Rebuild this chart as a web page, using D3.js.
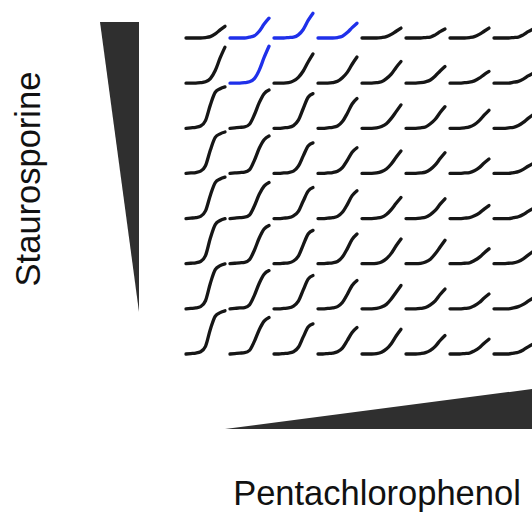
<!DOCTYPE html>
<html>
<head>
<meta charset="utf-8">
<script src="https://cdn.jsdelivr.net/npm/d3@7"></script>
<style>
  body { margin: 0; background: white; }
</style>
</head>
<body>
<div id="chart"></div>
<script>
const width = 532;
const height = 516;

// time points of each growth curve
const timePoints = [0, 1, 2, 3, 4, 5, 6, 7, 8];

// growth (fraction of max) per cell, top row = highest staurosporine,
// left column = lowest pentachlorophenol
const row0 = [
  [0, 0, 0, 0, 0.01, 0.03, 0.09, 0.18, 0.26],
  [0, 0, 0, 0, 0.02, 0.05, 0.15, 0.31, 0.44],
  [0, 0, 0, 0.01, 0.02, 0.07, 0.19, 0.39, 0.55],
  [0, 0, 0, 0, 0.01, 0.04, 0.12, 0.23, 0.33],
  [0, 0, 0, 0, 0.01, 0.03, 0.08, 0.15, 0.22],
  [0, 0, 0, 0, 0.01, 0.02, 0.07, 0.14, 0.20],
  [0, 0, 0, 0, 0.01, 0.03, 0.08, 0.15, 0.22],
  [0, 0, 0, 0, 0.01, 0.02, 0.07, 0.14, 0.20]
];
const row1 = [
  [0, 0, 0, 0.01, 0.03, 0.10, 0.28, 0.56, 0.80],
  [0, 0, 0, 0.01, 0.03, 0.10, 0.29, 0.57, 0.82],
  [0, 0, 0, 0.01, 0.05, 0.13, 0.27, 0.47, 0.65],
  [0, 0, 0, 0.01, 0.04, 0.12, 0.24, 0.42, 0.58],
  [0, 0, 0, 0.01, 0.03, 0.10, 0.20, 0.35, 0.48],
  [0, 0, 0, 0.01, 0.03, 0.07, 0.16, 0.27, 0.37],
  [0, 0, 0, 0.01, 0.02, 0.05, 0.11, 0.19, 0.26],
  [0, 0, 0, 0, 0.02, 0.04, 0.09, 0.16, 0.22]
];
const row2 = [
  [0, 0.01, 0.02, 0.05, 0.17, 0.52, 0.80, 0.88, 0.92],
  [0, 0.01, 0.02, 0.03, 0.09, 0.30, 0.57, 0.77, 0.85],
  [0, 0, 0.01, 0.02, 0.06, 0.18, 0.44, 0.69, 0.77],
  [0, 0, 0.01, 0.02, 0.05, 0.15, 0.33, 0.54, 0.66],
  [0, 0, 0, 0.01, 0.04, 0.10, 0.22, 0.37, 0.52],
  [0, 0, 0, 0.01, 0.03, 0.10, 0.20, 0.35, 0.48],
  [0, 0, 0, 0.01, 0.03, 0.08, 0.17, 0.29, 0.40],
  [0, 0, 0, 0.01, 0.02, 0.06, 0.13, 0.22, 0.30]
];
const row3 = [
  [0, 0.01, 0.02, 0.05, 0.17, 0.52, 0.80, 0.88, 0.92],
  [0, 0.01, 0.02, 0.03, 0.08, 0.29, 0.56, 0.75, 0.83],
  [0, 0, 0.01, 0.02, 0.05, 0.16, 0.39, 0.61, 0.68],
  [0, 0, 0.01, 0.02, 0.05, 0.13, 0.29, 0.47, 0.57],
  [0, 0, 0, 0.01, 0.04, 0.10, 0.21, 0.36, 0.50],
  [0, 0, 0, 0.01, 0.03, 0.09, 0.19, 0.33, 0.46],
  [0, 0, 0, 0.01, 0.02, 0.06, 0.13, 0.23, 0.32],
  [0, 0, 0, 0, 0.02, 0.04, 0.09, 0.16, 0.22]
];
const row4 = [
  [0, 0.01, 0.02, 0.05, 0.17, 0.52, 0.80, 0.88, 0.92],
  [0, 0.01, 0.02, 0.03, 0.08, 0.28, 0.54, 0.72, 0.80],
  [0, 0, 0.01, 0.02, 0.06, 0.16, 0.39, 0.61, 0.69],
  [0, 0, 0.01, 0.02, 0.05, 0.14, 0.31, 0.51, 0.62],
  [0, 0, 0, 0.01, 0.03, 0.09, 0.20, 0.34, 0.47],
  [0, 0, 0, 0.01, 0.03, 0.09, 0.18, 0.32, 0.44],
  [0, 0, 0, 0.01, 0.02, 0.06, 0.12, 0.21, 0.29],
  [0, 0, 0, 0, 0.02, 0.04, 0.09, 0.16, 0.22]
];
const row5 = [
  [0, 0.01, 0.02, 0.05, 0.18, 0.57, 0.87, 0.96, 1.00],
  [0, 0.01, 0.02, 0.03, 0.09, 0.30, 0.57, 0.77, 0.85],
  [0, 0, 0.01, 0.02, 0.06, 0.17, 0.42, 0.66, 0.74],
  [0, 0, 0.01, 0.02, 0.05, 0.15, 0.33, 0.54, 0.66],
  [0, 0, 0, 0.01, 0.04, 0.11, 0.23, 0.40, 0.55],
  [0, 0, 0, 0.01, 0.04, 0.10, 0.22, 0.37, 0.52],
  [0, 0, 0, 0.01, 0.02, 0.07, 0.14, 0.24, 0.33],
  [0, 0, 0, 0.01, 0.02, 0.05, 0.11, 0.19, 0.27]
];
const row6 = [
  [0, 0.01, 0.02, 0.05, 0.18, 0.57, 0.87, 0.96, 1.00],
  [0, 0.01, 0.02, 0.03, 0.09, 0.30, 0.57, 0.77, 0.85],
  [0, 0, 0.01, 0.02, 0.06, 0.17, 0.42, 0.66, 0.74],
  [0, 0, 0.01, 0.02, 0.05, 0.14, 0.32, 0.52, 0.63],
  [0, 0, 0, 0.01, 0.04, 0.10, 0.22, 0.37, 0.52],
  [0, 0, 0, 0.01, 0.03, 0.09, 0.18, 0.32, 0.44],
  [0, 0, 0, 0.01, 0.02, 0.07, 0.14, 0.24, 0.33],
  [0, 0, 0, 0, 0.02, 0.05, 0.10, 0.17, 0.24]
];
const row7 = [
  [0, 0.01, 0.02, 0.05, 0.17, 0.55, 0.84, 0.92, 0.96],
  [0, 0.01, 0.02, 0.03, 0.08, 0.28, 0.54, 0.73, 0.81],
  [0, 0, 0.01, 0.02, 0.05, 0.15, 0.38, 0.60, 0.67],
  [0, 0, 0.01, 0.02, 0.05, 0.13, 0.30, 0.48, 0.59],
  [0, 0, 0, 0.01, 0.04, 0.11, 0.23, 0.40, 0.55],
  [0, 0, 0, 0.01, 0.03, 0.08, 0.17, 0.30, 0.41],
  [0, 0, 0, 0.01, 0.02, 0.07, 0.14, 0.24, 0.33],
  [0, 0, 0, 0, 0.02, 0.04, 0.09, 0.16, 0.22]
];
const rows = [row0, row1, row2, row3, row4, row5, row6, row7];

// highlighted wells [row, col]
const highlighted = [[0, 1], [0, 2], [0, 3], [1, 1]];

const yLabel = "Staurosporine";
const xLabel = "Pentachlorophenol";

const svg = d3.select("#chart")
  .append("svg")
  .attr("width", width)
  .attr("height", height)
  .style("font-family", "'Liberation Sans', Arial, sans-serif");

// grid position scales
const colX = d3.scaleLinear().domain([0, 7]).range([186, 494]);
const rowY = d3.scaleLinear().domain([0, 7]).range([38, 354]);

// in-cell scales
const tX = d3.scaleLinear().domain([0, 8]).range([0, 39]);
const gY = d3.scaleLinear().domain([0, 1]).range([0, -45]);

const line = d3.line()
  .x((d, i) => tX(timePoints[i]))
  .y(d => gY(d))
  .curve(d3.curveMonotoneX);

const isHi = (r, c) => highlighted.some(h => h[0] === r && h[1] === c);

const cells = [];
rows.forEach((row, r) => row.forEach((vals, c) => cells.push({ r, c, vals })));

svg.append("g")
  .selectAll("path.growth")
  .data(cells)
  .enter()
  .append("path")
  .attr("class", "growth")
  .attr("transform", d => `translate(${colX(d.c)},${rowY(d.r)})`)
  .attr("d", d => line(d.vals))
  .attr("fill", "none")
  .attr("stroke", d => isHi(d.r, d.c) ? "#1f30ea" : "#161616")
  .attr("stroke-width", 3.3)
  .attr("stroke-linecap", "round")
  .attr("stroke-linejoin", "round");

// concentration wedges
svg.append("path")
  .attr("d", "M100,22 L139,22 L139,312 Z")
  .attr("fill", "#2f2f2f");

svg.append("path")
  .attr("d", "M225,429 L532,389 L532,429 Z")
  .attr("fill", "#2f2f2f");

// labels
svg.append("text")
  .attr("transform", "translate(40,179) rotate(-90)")
  .attr("text-anchor", "middle")
  .attr("font-size", "34.5px")
  .attr("fill", "#111")
  .text(yLabel);

svg.append("text")
  .attr("x", 377)
  .attr("y", 505)
  .attr("text-anchor", "middle")
  .attr("font-size", "34.5px")
  .attr("fill", "#111")
  .text(xLabel);
</script>
</body>
</html>
